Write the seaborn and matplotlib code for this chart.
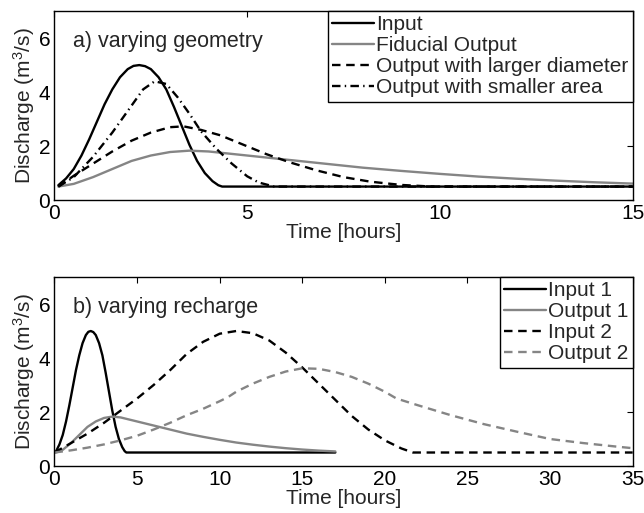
import numpy as np
import pandas as pd
import matplotlib
matplotlib.use("Agg")
import matplotlib.pyplot as plt
import seaborn as sns

# Input recharge pulse (short event)
t_input = [0.1, 0.3, 0.5, 0.7, 0.9, 1.1, 1.3, 1.5, 1.7, 1.9, 2.05, 2.2, 2.35,
           2.5, 2.7, 2.9, 3.1, 3.3, 3.5, 3.7, 3.9, 4.1, 4.25, 4.35, 17.0]
q_input = [0.55, 0.8, 1.15, 1.65, 2.25, 2.9, 3.55, 4.1, 4.55, 4.85, 4.97, 5.0,
           4.96, 4.85, 4.55, 4.1, 3.45, 2.75, 2.05, 1.45, 1.0, 0.7, 0.55, 0.5,
           0.5]

# Fiducial spring output
t_fid = [0.1, 0.5, 1.0, 1.5, 2.0, 2.5, 3.0, 3.5, 4.0, 5.0, 6.0, 7.0, 8.0, 9.0,
         10.0, 11.0, 12.0, 13.0, 14.0, 15.0, 16.0, 17.0]
q_fid = [0.5, 0.6, 0.85, 1.15, 1.45, 1.65, 1.78, 1.83, 1.8, 1.65, 1.5, 1.35,
         1.2, 1.08, 0.97, 0.87, 0.79, 0.72, 0.66, 0.61, 0.57, 0.54]

# Output with larger conduit diameter
t_diam = [0.1, 0.5, 1.0, 1.5, 2.0, 2.5, 3.0, 3.35, 3.8, 4.3, 4.9, 5.5, 6.1,
          6.8, 7.5, 8.2, 9.0, 9.8, 15.0]
q_diam = [0.5, 0.9, 1.35, 1.8, 2.2, 2.5, 2.7, 2.73, 2.6, 2.4, 2.05, 1.7, 1.4,
          1.1, 0.85, 0.68, 0.56, 0.5, 0.5]

# Output with smaller catchment area
t_area = [0.1, 0.5, 1.0, 1.5, 2.0, 2.3, 2.6, 2.9, 3.2, 3.5, 3.8, 4.2, 4.6,
          5.0, 5.3, 5.7, 15.0]
q_area = [0.5, 0.85, 1.6, 2.5, 3.5, 4.1, 4.4, 4.3, 3.8, 3.2, 2.55, 1.9, 1.35,
          0.88, 0.65, 0.5, 0.5]

# Second, longer recharge event and its output
t_in2 = [0.0, 1.0, 2.0, 3.0, 4.0, 5.0, 6.0, 7.0, 8.0, 9.0, 10.0, 11.0, 12.0,
         13.0, 14.0, 15.0, 16.0, 17.0, 18.0, 19.0, 20.0, 21.0, 21.7, 35.0]
q_in2 = [0.5, 0.85, 1.2, 1.6, 2.05, 2.5, 3.0, 3.55, 4.15, 4.6, 4.9, 5.0, 4.92,
         4.65, 4.2, 3.65, 3.05, 2.45, 1.85, 1.35, 0.95, 0.65, 0.5, 0.5]

t_out2 = [0.0, 1.0, 2.0, 3.0, 4.0, 5.0, 6.0, 7.0, 8.0, 9.0, 10.0, 10.5, 11.0,
          12.0, 13.0, 14.0, 15.0, 16.0, 17.0, 18.0, 19.0, 20.0, 20.7, 22.0,
          24.0, 26.0, 28.0, 30.0, 32.0, 34.0, 35.0]
q_out2 = [0.5, 0.58, 0.68, 0.8, 0.95, 1.12, 1.35, 1.6, 1.88, 2.12, 2.4, 2.55,
          2.75, 3.05, 3.3, 3.5, 3.62, 3.6, 3.48, 3.3, 3.05, 2.75, 2.5, 2.25,
          1.88, 1.55, 1.27, 1.0, 0.85, 0.72, 0.66]

labels_a = ["Input", "Fiducial Output", "Output with larger diameter",
            "Output with smaller area"]
labels_b = ["Input 1", "Output 1", "Input 2", "Output 2"]

sns.set_style("white")
plt.rcParams["font.family"] = ["Liberation Sans", "DejaVu Sans"]
plt.rcParams["mathtext.fontset"] = "custom"
plt.rcParams["mathtext.rm"] = "Liberation Sans"
plt.rcParams["mathtext.it"] = "Liberation Sans"

GRAY = "#858585"
LW = 1.7
DASH = (0, (3.6, 2.4))
DASHDOT = (0, (3.6, 1.8, 0.6, 1.8))
FS = 15

fig = plt.figure(figsize=(6.44, 5.13), dpi=100)
ax1 = fig.add_axes([0.0846, 0.610, 0.8978, 0.3684])
ax2 = fig.add_axes([0.0846, 0.0916, 0.8978, 0.3684])


def draw(ax, t, q, color, ls, label):
    df = pd.DataFrame({"t": t, "q": q})
    sns.lineplot(data=df, x="t", y="q", ax=ax, color=color, linewidth=LW,
                 label=label, estimator=None, sort=False)
    ax.lines[-1].set_linestyle(ls)


draw(ax1, t_input, q_input, "black", "-", labels_a[0])
draw(ax1, t_fid, q_fid, GRAY, "-", labels_a[1])
draw(ax1, t_diam, q_diam, "black", DASH, labels_a[2])
draw(ax1, t_area, q_area, "black", DASHDOT, labels_a[3])

draw(ax2, t_input, q_input, "black", "-", labels_b[0])
draw(ax2, t_fid, q_fid, GRAY, "-", labels_b[1])
draw(ax2, t_in2, q_in2, "black", DASH, labels_b[2])
draw(ax2, t_out2, q_out2, GRAY, DASH, labels_b[3])

for ax, xmax, xticks, title in [(ax1, 15, [0, 5, 10, 15], "a) varying geometry"),
                                (ax2, 35, list(range(0, 36, 5)), "b) varying recharge")]:
    ax.set_xlim(0, xmax)
    ax.set_ylim(0, 7)
    ax.set_xticks(xticks)
    ax.set_yticks([0, 2, 4, 6])
    ax.set_xlabel("Time [hours]", fontsize=FS, labelpad=0)
    ax.set_ylabel("Discharge (m$^3$/s)", fontsize=FS, labelpad=1)
    ax.tick_params(direction="in", length=4, width=0.8, top=True, right=True,
                   labelsize=FS, colors="black")
    ax.tick_params(axis="x", pad=3)
    ax.tick_params(axis="y", pad=3)
    for s in ax.spines.values():
        s.set_visible(True)
        s.set_color("black")
        s.set_linewidth(1.0)
    ax.text(0.032, 0.84, title, transform=ax.transAxes, fontsize=FS + 0.5,
            va="center", ha="left")
    leg = ax.legend(loc="upper right", frameon=True, fancybox=False,
                    handlelength=2.0, handletextpad=0.1, borderpad=0.2,
                    labelspacing=0.1, borderaxespad=0.0, fontsize=FS)
    leg.get_frame().set_edgecolor("black")
    leg.get_frame().set_linewidth(1.0)
    leg.get_frame().set_alpha(1.0)

fig.savefig("out.png", dpi=100)
